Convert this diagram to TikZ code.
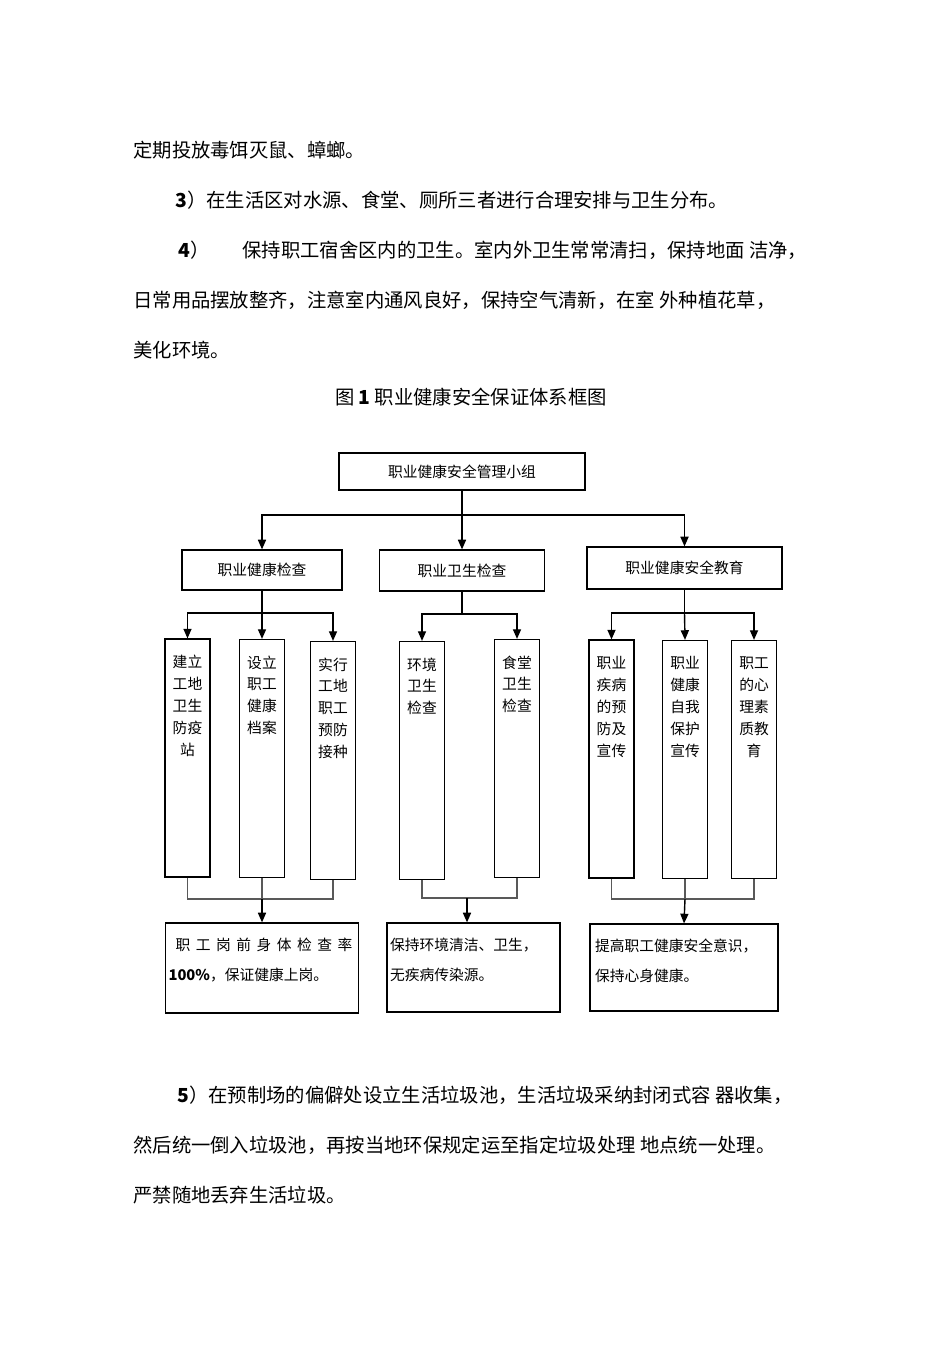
\documentclass[tikz,border=0pt]{standalone}
\usepackage{fontspec}
\setmainfont{Noto Sans CJK SC}
\usetikzlibrary{arrows.meta}

\newcommand{\coltext}[1]{\parbox[c][4.76cm][t]{0.9cm}{\centering\vspace*{0.32cm}#1}}
\newcommand{\restext}[3]{\parbox[c][#2][t]{#1}{\vspace*{0.23cm}#3}}

\begin{document}
\begin{tikzpicture}[x=0.02cm,y=-0.02cm]
\tikzstyle{para}=[anchor=west, inner sep=0pt, font=\fontsize{11pt}{13pt}\selectfont]
\tikzstyle{head}=[draw, line width=0.7pt, font=\fontsize{8.4pt}{10pt}\selectfont]
\tikzstyle{col}=[draw, line width=0.7pt, inner sep=0pt, font=\fontsize{8.4pt}{12.5pt}\selectfont]
\tikzstyle{res}=[draw, line width=0.7pt, inner sep=0.06cm, font=\fontsize{8.4pt}{17.6pt}\selectfont]
\tikzstyle{link}=[line width=0.8pt]
\tikzstyle{arr}=[line width=0.8pt, -{Triangle[length=5.5pt,width=4.6pt]}]
\tikzstyle{tie}=[line width=0.6pt, black!65]
\fill[white] (0,0) rectangle (950,1345);
\useasboundingbox (0,0) rectangle (950,1345);

% text above the chart
\node[para] (p1) at (133,150) {定期投放毒饵灭鼠、蟑螂。};
\node[para] (p2) at (175,200) {\textbf{3}）在生活区对水源、食堂、厕所三者进行合理安排与卫生分布。};
\node[para] (p3) at (178,250) {\textbf{4}）\hspace{0.66cm}保持职工宿舍区内的卫生。室内外卫生常常清扫，保持地面 洁净，};
\node[para] (p4) at (133,300) {日常用品摆放整齐，注意室内通风良好，保持空气清新，在室 外种植花草，};
\node[para] (p5) at (133,350) {美化环境。};
\node[para, anchor=center] (cap) at (471,397) {图 \textbf{1} 职业健康安全保证体系框图};

% chart
\node[head, minimum width=4.92cm, minimum height=0.74cm] (T) at (462,471.5) {职业健康安全管理小组};
\node[head, minimum width=3.2cm, minimum height=0.8cm] (A) at (262,570) {职业健康检查};
\node[head, minimum width=3.3cm, minimum height=0.82cm] (B) at (462,570.5) {职业卫生检查};
\node[head, minimum width=3.9cm, minimum height=0.84cm] (C) at (684.5,568) {职业健康安全教育};

\node[col] (A1) at (187.5,758) {\coltext{建立\\工地\\卫生\\防疫\\站}};
\node[col] (A2) at (262,758.5) {\coltext{设立\\职工\\健康\\档案}};
\node[col] (A3) at (333,760.5) {\coltext{实行\\工地\\职工\\预防\\接种}};
\node[col] (B1) at (422,760.5) {\coltext{环境\\卫生\\检查}};
\node[col] (B2) at (517,758.5) {\coltext{食堂\\卫生\\检查}};
\node[col] (C1) at (611.5,759) {\coltext{职业\\疾病\\的预\\防及\\宣传}};
\node[col] (C2) at (685,759.5) {\coltext{职业\\健康\\自我\\保护\\宣传}};
\node[col] (C3) at (754,759.5) {\coltext{职工\\的心\\理素\\质教\\育}};

\node[res] (RA) at (262,968) {\restext{3.74cm}{1.68cm}{\hspace*{0.14cm}\makebox[3.54cm][s]{职\hfill 工\hfill 岗\hfill 前\hfill 身\hfill 体\hfill 检\hfill 查\hfill 率}\\\textbf{100\%}，保证健康上岗。}};
\node[res] (RB) at (473.5,967.5) {\restext{3.34cm}{1.66cm}{保持环境清洁、卫生，\\无疾病传染源。}};
\node[res] (RC) at (684,967.5) {\restext{3.64cm}{1.62cm}{\hspace*{0.04cm}提高职工健康安全意识，\\\hspace*{0.04cm}保持心身健康。}};

\coordinate (t) at (462,515);
\coordinate (a) at (262,613);
\coordinate (b) at (462,614);
\coordinate (c) at (684.5,613);
\coordinate (ra) at (262,899);
\coordinate (rb) at (467,898);
\coordinate (rc) at (685,899);

\draw[link] (T.south) -- (t);
\draw[arr] (t) -| (A.north);
\draw[arr] (t) -- (B.north);
\draw[arr] (t) -| (C.north);

\draw[link] (A.south) -- (a);
\draw[arr] (a) -| (A1.north);
\draw[arr] (a) -- (A2.north);
\draw[arr] (a) -| (A3.north);
\draw[link] (B.south) -- (b);
\draw[arr] (b) -| (B1.north);
\draw[arr] (b) -| (B2.north);
\draw[link] (C.south) -- (c);
\draw[arr] (c) -| (C1.north);
\draw[arr] (c) -- (C2.north);
\draw[arr] (c) -| (C3.north);

\draw[tie] (A1.south) |- (ra) -| (A3.south);
\draw[tie] (A2.south) -- (ra);
\draw[arr] (ra) -- (RA.north);
\draw[tie] (B1.south) |- (rb) -| (B2.south);
\draw[arr] (rb) -- (rb |- RB.north);
\draw[tie] (C1.south) |- (rc) -| (C3.south);
\draw[tie] (C2.south) -- (rc);
\draw[arr] (rc) -- (RC.north);

% text below the chart
\node[para] (p6) at (177,1095) {\textbf{5}）在预制场的偏僻处设立生活垃圾池，生活垃圾采纳封闭式容 器收集，};
\node[para] (p7) at (133,1145) {然后统一倒入垃圾池，再按当地环保规定运至指定垃圾处理 地点统一处理。};
\node[para] (p8) at (133,1195) {严禁随地丢弃生活垃圾。};
\end{tikzpicture}
\end{document}
